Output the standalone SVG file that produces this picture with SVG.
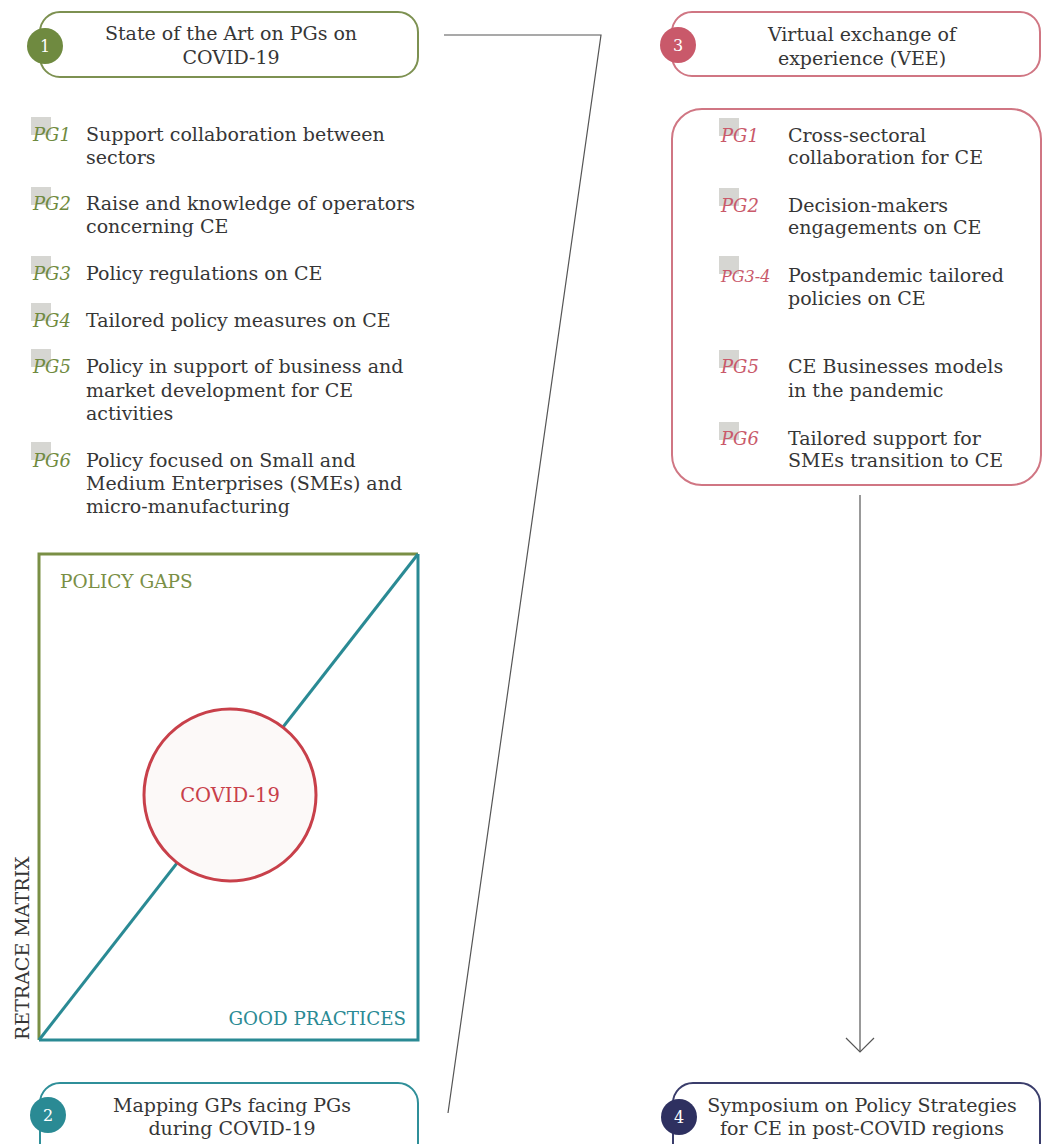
<svg xmlns="http://www.w3.org/2000/svg" width="1043" height="1144" viewBox="0 0 1043 1144">
<style>
text{font-family:"DejaVu Serif","Liberation Serif",serif;font-size:19px;fill:#363636}
.t{text-anchor:middle}
.pg{font-style:italic;font-size:18px}
.g{fill:#6f8a40}
.p{fill:#c9596a}
.sq{fill:#d6d6d2}
.badge{font-family:"DejaVu Serif",serif;font-size:16px;fill:#fff;text-anchor:middle}
.conn{fill:none;stroke:#555;stroke-width:1.2}
</style>
<rect width="1043" height="1144" fill="#fff"/>
<g id="connectors">
<polyline class="conn" points="444,35 601,35 448,1113"/>
<line class="conn" x1="860" y1="495" x2="860" y2="1052"/>
<polyline class="conn" points="846,1038 860,1052 874,1038"/>
</g>
<g id="node1">
<rect x="40" y="12" width="378" height="65" rx="20" fill="#fff" stroke="#7d9151" stroke-width="2"/>
<circle cx="45" cy="46" r="18" fill="#6f8a40"/>
<text class="badge" x="45" y="52">1</text>
<text class="t" x="231" y="40">State of the Art on PGs on</text>
<text class="t" x="231" y="64">COVID-19</text>
</g>
<g id="pg-list-left">
<rect class="sq" x="31" y="117" width="20" height="18"/>
<text class="pg g" x="33" y="141">PG1</text>
<text x="86" y="141">Support collaboration between</text>
<text x="86" y="164">sectors</text>
<rect class="sq" x="31" y="187" width="20" height="18"/>
<text class="pg g" x="33" y="210">PG2</text>
<text x="86" y="210">Raise and knowledge of operators</text>
<text x="86" y="233">concerning CE</text>
<rect class="sq" x="31" y="256" width="20" height="18"/>
<text class="pg g" x="33" y="280">PG3</text>
<text x="86" y="280">Policy regulations on CE</text>
<rect class="sq" x="31" y="303" width="20" height="18"/>
<text class="pg g" x="33" y="327">PG4</text>
<text x="86" y="327">Tailored policy measures on CE</text>
<rect class="sq" x="31" y="349" width="20" height="18"/>
<text class="pg g" x="33" y="373">PG5</text>
<text x="86" y="373">Policy in support of business and</text>
<text x="86" y="397">market development for CE</text>
<text x="86" y="420">activities</text>
<rect class="sq" x="31" y="442" width="20" height="18"/>
<text class="pg g" x="33" y="467">PG6</text>
<text x="86" y="467">Policy focused on Small and</text>
<text x="86" y="490">Medium Enterprises (SMEs) and</text>
<text x="86" y="513">micro-manufacturing</text>
</g>
<g id="matrix">
<polyline points="39,1040 39,554 418,554" fill="none" stroke="#7a8f45" stroke-width="3"/>
<polyline points="39,1040 418,1040 418,554" fill="none" stroke="#2a8a94" stroke-width="3"/>
<line x1="39" y1="1040" x2="418" y2="554" stroke="#2a8a94" stroke-width="3"/>
<text x="60" y="588" style="fill:#7a8f45;font-size:18.5px">POLICY GAPS</text>
<text x="406" y="1025" style="fill:#2a8a94;text-anchor:end;font-size:18.3px">GOOD PRACTICES</text>
<text x="29" y="1040" transform="rotate(-90 29 1040)">RETRACE MATRIX</text>
</g>
<g id="covid">
<circle cx="230" cy="795" r="86" fill="#fcf9f8" stroke="#c8404a" stroke-width="3"/>
<text class="t" x="230" y="802" style="fill:#c8404a;font-size:19.5px">COVID-19</text>
</g>
<g id="node2">
<rect x="40" y="1083" width="378" height="80" rx="20" fill="#fff" stroke="#2f8f99" stroke-width="2"/>
<circle cx="48" cy="1115" r="18" fill="#2a8a94"/>
<text class="badge" x="48" y="1121">2</text>
<text class="t" x="232" y="1112">Mapping GPs facing PGs</text>
<text class="t" x="232" y="1135">during COVID-19</text>
</g>
<g id="node3">
<rect x="672" y="12" width="368" height="64" rx="20" fill="#fff" stroke="#d07683" stroke-width="2"/>
<circle cx="678" cy="45" r="18" fill="#c9596a"/>
<text class="badge" x="678" y="51">3</text>
<text class="t" x="862" y="41">Virtual exchange of</text>
<text class="t" x="862" y="65">experience (VEE)</text>
</g>
<g id="pg-list-right">
<rect x="672" y="109" width="369" height="376" rx="30" fill="#fff" stroke="#d07683" stroke-width="2"/>
<rect class="sq" x="719" y="118" width="20" height="18"/>
<text class="pg p" x="721" y="142">PG1</text>
<text x="788" y="142">Cross-sectoral</text>
<text x="788" y="164">collaboration for CE</text>
<rect class="sq" x="719" y="188" width="20" height="18"/>
<text class="pg p" x="721" y="212">PG2</text>
<text x="788" y="212">Decision-makers</text>
<text x="788" y="234">engagements on CE</text>
<rect class="sq" x="719" y="256" width="20" height="18"/>
<text class="pg p" x="721" y="282" style="font-size:16px">PG3-4</text>
<text x="788" y="282">Postpandemic tailored</text>
<text x="788" y="305">policies on CE</text>
<rect class="sq" x="719" y="350" width="20" height="18"/>
<text class="pg p" x="721" y="373">PG5</text>
<text x="788" y="373">CE Businesses models</text>
<text x="788" y="397">in the pandemic</text>
<rect class="sq" x="719" y="422" width="20" height="18"/>
<text class="pg p" x="721" y="445">PG6</text>
<text x="788" y="445">Tailored support for</text>
<text x="788" y="467">SMEs transition to CE</text>
</g>
<g id="node4">
<rect x="673" y="1083" width="367" height="80" rx="20" fill="#fff" stroke="#3a3d6b" stroke-width="2"/>
<circle cx="679" cy="1117" r="18" fill="#2e3060"/>
<text class="badge" x="679" y="1123">4</text>
<text class="t" x="862" y="1112">Symposium on Policy Strategies</text>
<text class="t" x="862" y="1135">for CE in post-COVID regions</text>
</g>
</svg>
